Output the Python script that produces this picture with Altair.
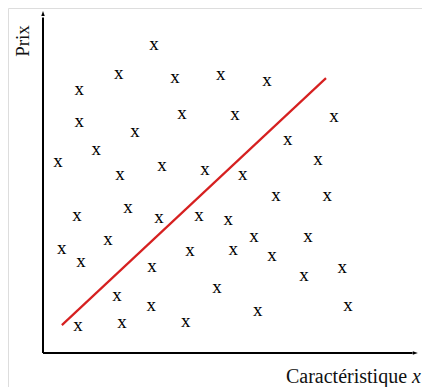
import altair as alt
import pandas as pd

# Scatter points ("x" markers) in data units (0..10 on each axis)
px = [2.88, 0.94, 1.97, 3.43, 4.62, 5.82, 0.94, 3.61, 2.39, 4.99, 7.56, 1.38, 0.39, 2.00, 3.09,
      4.21, 5.19, 6.36, 7.14, 0.88, 2.21, 3.01, 4.05, 0.49, 1.69, 0.99, 3.82, 2.83, 1.92, 2.81,
      0.91, 2.05, 3.71, 6.05, 7.38, 4.81, 5.48, 6.88, 4.94, 5.95, 6.78, 7.77, 4.52, 5.58, 7.92]
py = [8.92, 7.62, 8.08, 7.97, 8.05, 7.88, 6.69, 6.92, 6.40, 6.89, 6.83, 5.87, 5.52, 5.15, 5.41,
      5.29, 5.15, 6.16, 5.58, 3.95, 4.19, 3.90, 3.95, 2.99, 3.26, 2.62, 2.94, 2.47, 1.63, 1.34,
      0.76, 0.84, 0.87, 4.53, 4.53, 3.84, 3.34, 3.34, 2.97, 2.79, 2.21, 2.44, 1.86, 1.19, 1.34]

# Red fitted line endpoints
line_x = [0.49, 7.35]
line_y = [0.81, 7.99]

# Axes
axis_max_x = 9.8
axis_max_y = 10.0

x_label = "Caractéristique"
x_label_var = "x"
y_label = "Prix"

FONT = "Liberation Serif"

xs = alt.Scale(domain=[-0.909, 9.844], nice=False, zero=False)
ys = alt.Scale(domain=[-0.988, 10.029], nice=False, zero=False)

pts = pd.DataFrame({"x": px, "y": py})
ln = pd.DataFrame({"x": line_x, "y": line_y})

markers = alt.Chart(pts).mark_text(
    text="x", font=FONT, fontSize=19, baseline="middle", align="center", color="black", dy=-2
).encode(x=alt.X("x:Q", scale=xs, axis=None), y=alt.Y("y:Q", scale=ys, axis=None))

redline = alt.Chart(ln).mark_line(color="#d62020", strokeWidth=2.2).encode(
    x=alt.X("x:Q", scale=xs, axis=None), y=alt.Y("y:Q", scale=ys, axis=None)
)

yaxis = alt.Chart(pd.DataFrame({"x": [0], "y": [0], "y2": [axis_max_y - 0.25]})).mark_rule(
    color="black", strokeWidth=2
).encode(x=alt.X("x:Q", scale=xs, axis=None), y=alt.Y("y:Q", scale=ys, axis=None), y2="y2:Q")

xaxis = alt.Chart(pd.DataFrame({"x": [0], "x2": [axis_max_x - 0.2], "y": [0]})).mark_rule(
    color="black", strokeWidth=2
).encode(x=alt.X("x:Q", scale=xs, axis=None), x2="x2:Q", y=alt.Y("y:Q", scale=ys, axis=None))

yarrow = alt.Chart(pd.DataFrame({"x": [0], "y": [axis_max_y - 0.13]})).mark_point(
    shape="M-0.35,0.5L0,-0.5L0.35,0.5Z", size=100, filled=True, color="black", opacity=1
).encode(x=alt.X("x:Q", scale=xs, axis=None), y=alt.Y("y:Q", scale=ys, axis=None))

xarrow = alt.Chart(pd.DataFrame({"x": [axis_max_x - 0.13], "y": [0]})).mark_point(
    shape="M-0.5,-0.35L0.5,0L-0.5,0.35Z", size=100, filled=True, color="black", opacity=1
).encode(x=alt.X("x:Q", scale=xs, axis=None), y=alt.Y("y:Q", scale=ys, axis=None))

ylab = alt.Chart(pd.DataFrame({"x": [-0.53], "y": [9.07], "t": [y_label]})).mark_text(
    font=FONT, fontSize=19, angle=270, align="center", baseline="middle", color="#111"
).encode(x=alt.X("x:Q", scale=xs, axis=None), y=alt.Y("y:Q", scale=ys, axis=None), text="t:N")

xlab = alt.Chart(pd.DataFrame({"x": [9.455], "y": [-0.87], "t": [x_label]})).mark_text(
    font=FONT, fontSize=20, align="right", baseline="alphabetic", color="#111"
).encode(x=alt.X("x:Q", scale=xs, axis=None), y=alt.Y("y:Q", scale=ys, axis=None), text="t:N")

xlab2 = alt.Chart(pd.DataFrame({"x": [9.455], "y": [-0.87], "t": [x_label_var]})).mark_text(
    font=FONT, fontSize=20, fontStyle="italic", align="left", baseline="alphabetic", color="#111", dx=5
).encode(x=alt.X("x:Q", scale=xs, axis=None), y=alt.Y("y:Q", scale=ys, axis=None), text="t:N")

chart = alt.layer(redline, markers, yaxis, xaxis, yarrow, xarrow, ylab, xlab, xlab2).properties(
    width=414, height=379, autosize=alt.AutoSizeParams(type="none"), padding=0
).configure_view(stroke=None).configure(background="white")

chart.save("out.html", embed_options={"renderer": "svg", "actions": False})
